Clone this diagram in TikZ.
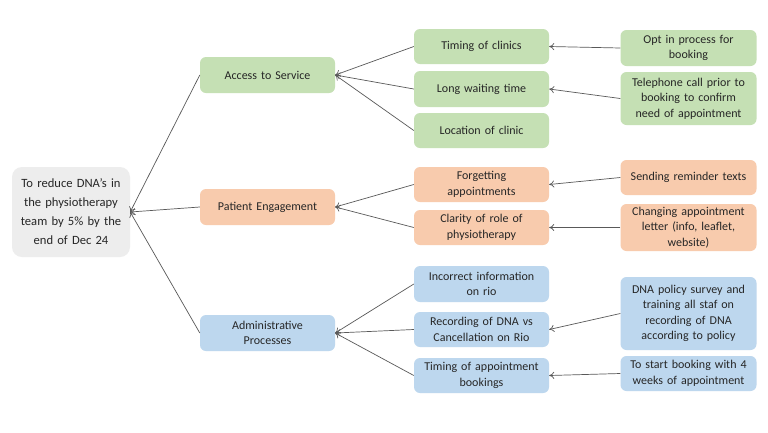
\documentclass[tikz,border=0pt]{standalone}
\usepackage{fontspec}
\setmainfont{Carlito}
\usetikzlibrary{arrows.meta}
\definecolor{gfill}{HTML}{C5E0B4}
\definecolor{ofill}{HTML}{F8CBAD}
\definecolor{bfill}{HTML}{BDD7EE}
\definecolor{rfill}{HTML}{EDEDED}
\definecolor{txt}{HTML}{262626}
\definecolor{ln}{HTML}{595959}
\tikzset{
  box/.style={rounded corners=6pt, draw=none, align=center, text=txt,
    font=\fontsize{12}{15.5}\selectfont, inner sep=2pt},
  midbox/.style={box, minimum width=135pt, minimum height=35pt, text width=130pt},
  rbox/.style={box, minimum width=135pt, text width=132pt},
  arr/.style={draw=ln, line width=0.7pt, -{To[length=5pt,width=7pt]}},
}
\begin{document}
\begin{tikzpicture}[x=1pt,y=-1pt]
\useasboundingbox (0,0) rectangle (768,432);
\fill[white] (0,0) rectangle (768,432);
% root
\node[box, fill=rfill, minimum width=118pt, minimum height=90pt, text width=116pt, inner sep=1pt, rounded corners=10pt,
  font=\fontsize{12.6}{19}\selectfont] (root) at (71,212)
  {To reduce DNA’s in\\the physiotherapy\\team by 5\% by the\\end of Dec 24};
% level 1
\node[midbox, fill=gfill, minimum height=36pt] (acc) at (267.5,75) {Access to Service};
\node[midbox, fill=ofill, minimum height=36pt] (pat) at (267.5,207) {Patient Engagement};
\node[midbox, fill=bfill, minimum height=36pt] (adm) at (267.5,333) {Administrative\\Processes};
% level 2
\node[midbox, fill=gfill] (tim) at (481.5,46.5) {Timing of clinics};
\node[midbox, fill=gfill, minimum height=36pt] (lwt) at (481.5,89) {Long waiting time};
\node[midbox, fill=gfill] (loc) at (481.5,130.5) {Location of clinic};
\node[midbox, fill=ofill] (fga) at (481.5,184.5) {Forgetting\\appointments};
\node[midbox, fill=ofill] (clr) at (481.5,227.5) {Clarity of role of\\physiotherapy};
\node[midbox, fill=bfill, minimum height=36pt] (inc) at (481.5,284) {Incorrect information\\on rio};
\node[midbox, fill=bfill] (rec) at (481.5,329.5) {Recording of DNA vs\\Cancellation on Rio};
\node[midbox, fill=bfill] (tab) at (481.5,375.5) {Timing of appointment\\bookings};
% level 3
\node[rbox, fill=gfill, minimum height=36pt] (opt) at (688.5,48) {Opt in process for\\booking};
\node[rbox, fill=gfill, minimum height=53pt] (tel) at (688.5,98.5) {Telephone call prior to\\booking to confirm\\need of appointment};
\node[rbox, fill=ofill, minimum height=35pt] (snd) at (688.5,177.5) {Sending reminder texts};
\node[rbox, fill=ofill, minimum height=47pt] (chg) at (688.5,227.5) {Changing appointment\\letter (info, leaflet,\\website)};
\node[rbox, fill=bfill, minimum height=73pt] (pol) at (688.5,313.5) {DNA policy survey and\\training all staf on\\recording of DNA\\according to policy};
\node[rbox, fill=bfill, minimum height=35pt] (sta) at (688.5,373.5) {To start booking with 4\\weeks of appointment};
% connectors
\draw[arr] (acc.west) -- (root.east);
\draw[arr] (pat.west) -- (root.east);
\draw[arr] (adm.west) -- (root.east);
\draw[arr] (tim.west) -- (acc.east);
\draw[arr] (lwt.west) -- (acc.east);
\draw[arr] (loc.west) -- (acc.east);
\draw[arr] (fga.west) -- (pat.east);
\draw[arr] (clr.west) -- (pat.east);
\draw[arr] (inc.west) -- (adm.east);
\draw[arr] (rec.west) -- (adm.east);
\draw[arr] (tab.west) -- (adm.east);
\draw[arr] (opt.west) -- (tim.east);
\draw[arr] (tel.west) -- (lwt.east);
\draw[arr] (snd.west) -- (fga.east);
\draw[arr] (chg.west) -- (clr.east);
\draw[arr] (pol.west) -- (rec.east);
\draw[arr] (sta.west) -- (tab.east);
\end{tikzpicture}
\end{document}
